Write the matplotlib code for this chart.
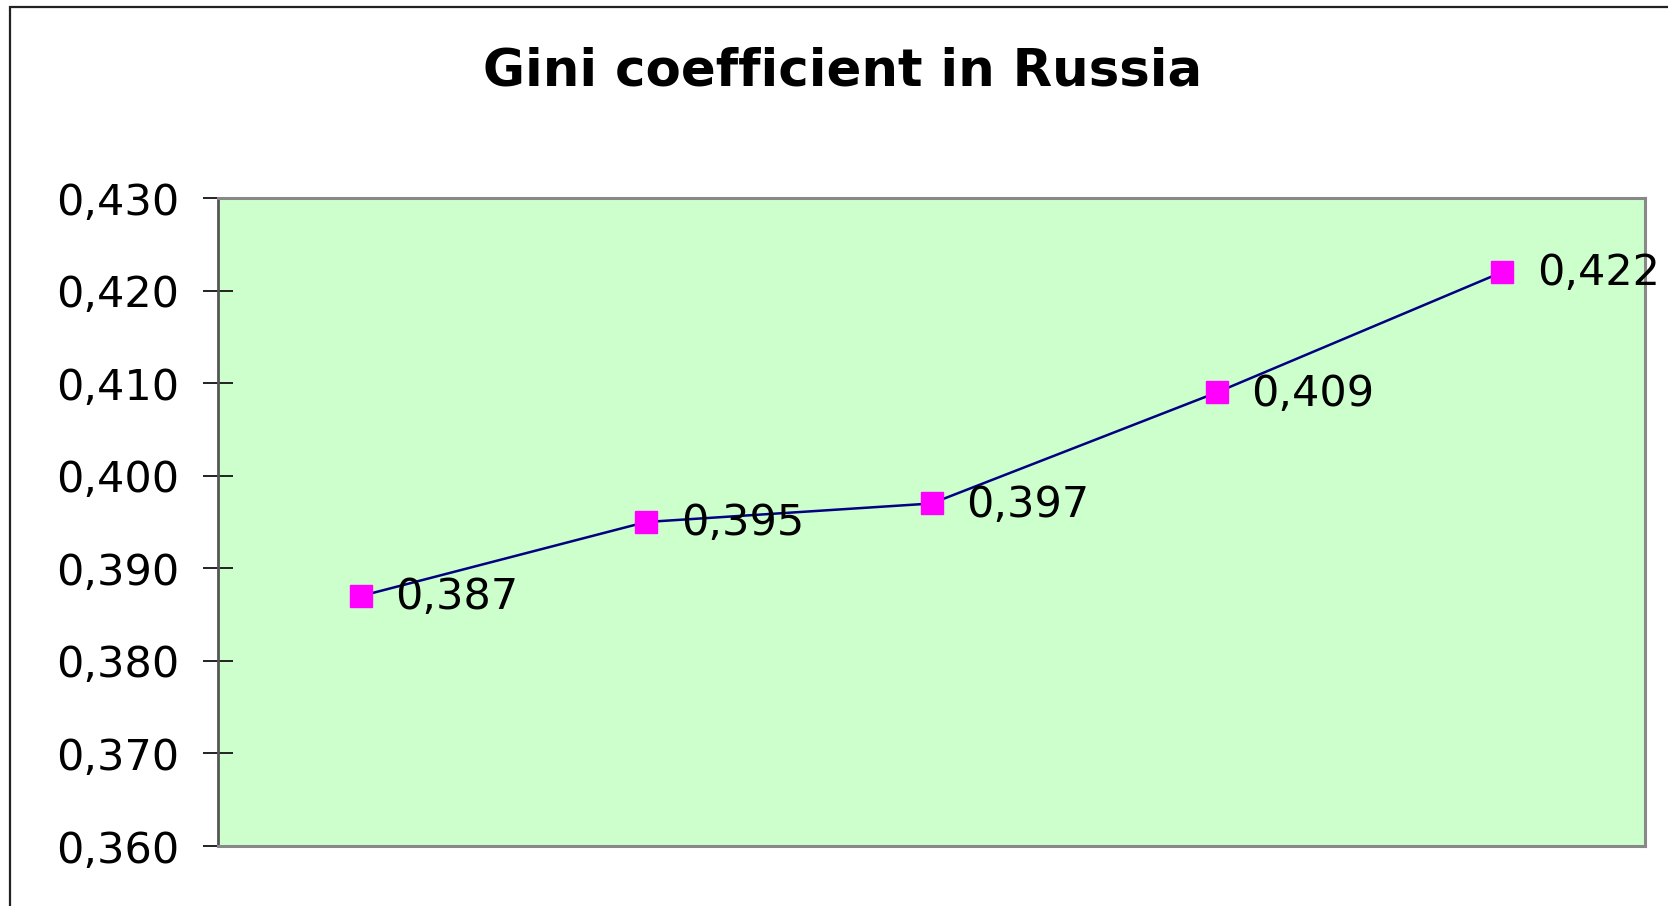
import matplotlib
matplotlib.use("Agg")
import matplotlib.pyplot as plt
from matplotlib.patches import Rectangle

plt.rcParams['font.family'] = ['DejaVu Sans']

# data
years = ['2000', '2001', '2002', '2003', '2004']  # category slots, no labels shown
gini = [0.387, 0.395, 0.397, 0.409, 0.422]
yticks = [0.36, 0.37, 0.38, 0.39, 0.40, 0.41, 0.42, 0.43]

W, H = 1668, 906
fig = plt.figure(figsize=(W / 100, H / 100), dpi=100)
ax = fig.add_axes([218 / W, 1 - 846 / H, (1645 - 218) / W, (846 - 198) / H])

# outer chart frame
fig.patches.append(Rectangle((10 / W, -0.1), 1.2, 1 - 7 / H + 0.1, transform=fig.transFigure,
                             fill=False, edgecolor='#222222', linewidth=1.6))

ax.set_facecolor('#CCFFCC')
xs = range(len(gini))
ax.plot(xs, gini, color='#000080', linewidth=1.8, marker='s', markersize=16,
        markerfacecolor='#FF00FF', markeredgecolor='#FF00FF', zorder=3)
for x, v in zip(xs, gini):
    ax.annotate(f"{v:.3f}".replace('.', ','), (x, v), xytext=(25, -1),
                textcoords='offset points', va='center', ha='left', fontsize=31,
                annotation_clip=False, zorder=4)

ax.set_xlim(-0.5, len(gini) - 0.5)
ax.set_ylim(0.36, 0.43)
ax.set_yticks(yticks)
ax.set_yticklabels([f"{t:.3f}".replace('.', ',') for t in yticks], fontsize=31)
ax.set_xticks([])
ax.tick_params(axis='y', direction='inout', length=22, width=1.4, color='#222222', pad=17)

for s in ['top', 'right', 'bottom']:
    ax.spines[s].set_color('#888888')
    ax.spines[s].set_linewidth(2.2)
ax.spines['left'].set_color('#555555')
ax.spines['left'].set_linewidth(2.0)

fig.text(843 / W, 1 - 85 / H, 'Gini coefficient in Russia', ha='center', va='baseline',
         fontsize=37, fontweight='bold')

fig.savefig('out.png', dpi=100)
